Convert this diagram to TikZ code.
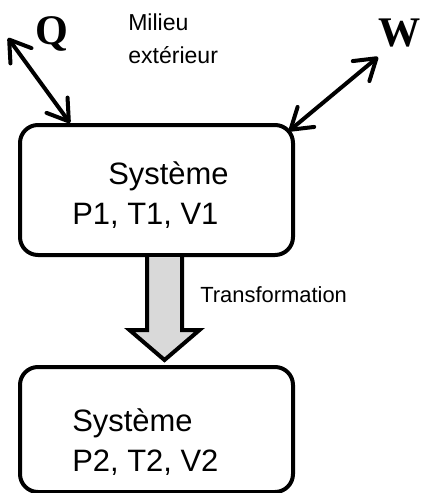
\documentclass[tikz,border=0pt]{standalone}
\usepackage{fontspec}
\setmainfont{Liberation Sans}
\newfontfamily\boldserif{Liberation Serif}
\usetikzlibrary{positioning,calc,arrows.meta}
\tikzset{
  sys/.style={rectangle, rounded corners=4.5mm, line width=1mm, draw=black, fill=white, minimum width=6.825cm, minimum height=3.25cm},
  systext/.style={align=left, inner sep=0pt, anchor=north west, font=\fontsize{22}{28.5}\selectfont},
  exchange/.style={{Straight Barb[length=5mm,width=6.5mm,round]}-{Straight Barb[length=5mm,width=6.5mm,round]}, line width=1mm},
  energy/.style={inner sep=0pt, font=\boldserif\bfseries\fontsize{30}{30}\selectfont},
  note/.style={align=left, inner sep=0pt, font=\fontsize{16.4}{22.8}\selectfont},
  fat/.style={draw=black, line width=1mm, fill=black!15, line join=miter}
}

\begin{document}
\begin{tikzpicture}
  \useasboundingbox (0,0) rectangle (10.55,-12.325);

  % system before and after
  \node[sys] (sys_1) at (3.9125,-4.75) {};
  \node[sys, minimum height=3.125cm, below=2.7cm of sys_1] (sys_2) {};
  \node[systext] (txt_1) at ($(sys_1.north west)+(1.35,-0.95)$) {\hspace*{0.9cm}Système\\P1, T1, V1};
  \node[systext] (txt_2) at ($(sys_2.north west)+(1.35,-1.075)$) {Système\\P2, T2, V2};

  % fat arrow between the two states
  \coordinate (tail) at ($(sys_1.south)+(0.2,0)$);
  \draw[fat] ($(tail)+(-0.4375,0)$) -- ++(0,-1.825) -- ++(-0.4375,0)
    -- ($(tail)+(0,-2.575)$) -- ($(tail)+(0.875,-1.825)$) -- ++(-0.4375,0) -- ++(0,1.825);
  \node[note, anchor=west, font=\fontsize{15.6}{18}\selectfont] (trans) at ($(tail)+(0.8875,-0.95)$) {Transformation};

  % surroundings, heat and work
  \node[note, anchor=north west] (milieu) at (3.2,-0.35) {Milieu\\extérieur};
  \node[energy] (Q) at (1.3,-0.85) {Q};
  \node[energy] (W) at (9.98,-0.825) {W};
  \coordinate (q_end) at (0.2,-0.95);
  \coordinate (w_end) at (9.45,-1.425);
  \draw[exchange] (q_end) -- ($(sys_1.north west)+(1.3,0)$);
  \draw[exchange] ($(sys_1.north east)+(-0.15,-0.2)$) -- (w_end);
\end{tikzpicture}
\end{document}
